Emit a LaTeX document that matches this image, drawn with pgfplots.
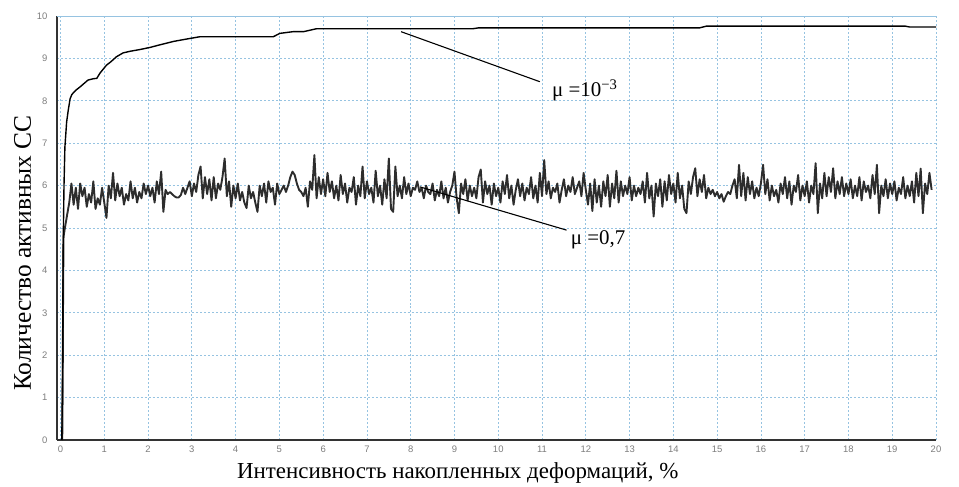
\documentclass[border=0pt]{standalone}
\usepackage{fontspec}
\setmainfont{Liberation Serif}
\newfontfamily\tickfont{Liberation Sans}
\usepackage{pgfplots}
\pgfplotsset{compat=1.18}
\definecolor{gridblue}{RGB}{150,195,225}
\definecolor{tickgray}{RGB}{125,125,125}
\definecolor{curvegray}{RGB}{45,45,45}

\pgfplotstableread{
x y
0.04 0
0.05 1.2
0.06 3.6
0.07 4.8
0.10 5.0
0.15 5.3
0.20 5.6
0.25 6.05
0.30 5.55
0.35 5.95
0.40 5.45
0.45 6.05
0.50 5.75
0.55 5.95
0.60 5.5
0.65 5.8
0.70 5.6
0.75 6.1
0.80 5.45
0.85 5.7
0.90 5.55
0.95 5.95
1.00 5.6
1.05 5.24
1.10 6.0
1.15 5.7
1.20 6.3
1.25 5.65
1.30 6.05
1.35 5.75
1.40 5.95
1.45 5.55
1.50 5.8
1.55 5.65
1.60 6.1
1.65 5.7
1.70 5.95
1.75 5.6
1.80 5.85
1.85 5.7
1.90 6.05
1.95 5.8
2.00 6.0
2.05 5.75
2.10 5.95
2.15 5.6
2.20 6.1
2.25 5.8
2.30 6.33
2.35 5.38
2.40 5.9
2.45 5.8
2.50 5.85
2.55 5.8
2.60 5.75
2.65 5.72
2.70 5.72
2.75 5.78
2.80 5.95
2.85 5.8
2.90 5.95
2.95 6.1
3.00 5.75
3.05 6.05
3.10 5.85
3.15 6.25
3.20 6.45
3.25 5.7
3.30 6.2
3.35 5.8
3.40 6.15
3.45 5.65
3.50 6.2
3.55 5.7
3.60 6.05
3.65 5.9
3.70 6.2
3.75 6.64
3.80 5.75
3.85 6.1
3.90 5.5
3.95 6.0
4.00 5.7
4.05 6.05
4.10 5.65
4.15 5.85
4.20 5.6
4.25 5.47
4.30 6.0
4.35 5.7
4.40 5.85
4.45 5.6
4.50 5.38
4.55 6.0
4.60 5.75
4.65 6.05
4.70 5.6
4.75 6.1
4.80 5.85
4.85 5.95
4.90 5.55
4.95 6.05
5.00 5.8
5.05 5.9
5.10 6.0
5.15 5.85
5.20 6.0
5.25 6.2
5.30 6.33
5.35 6.25
5.40 6.05
5.45 5.9
5.50 5.85
5.55 5.75
5.60 5.95
5.65 5.5
5.70 6.1
5.75 5.9
5.80 6.72
5.85 5.7
5.90 6.2
5.95 5.8
6.00 6.15
6.05 5.75
6.10 6.3
6.15 5.85
6.20 6.1
6.25 5.7
6.30 6.0
6.35 5.65
6.40 6.25
6.45 5.8
6.50 6.05
6.55 5.6
6.60 5.95
6.65 5.85
6.70 6.2
6.75 5.55
6.80 6.0
6.85 5.75
6.90 6.45
6.95 5.7
7.00 6.1
7.05 5.8
7.10 5.95
7.15 5.6
7.20 6.35
7.25 5.75
7.30 6.0
7.35 5.55
7.40 6.15
7.45 5.7
7.50 6.64
7.55 5.45
7.60 5.38
7.65 6.45
7.70 5.75
7.75 6.0
7.80 5.7
7.85 6.2
7.90 5.8
7.95 6.05
8.00 5.75
8.05 5.95
8.10 5.9
8.15 6.1
8.20 5.85
8.25 5.95
8.30 5.7
8.35 6.0
8.40 5.85
8.45 5.8
8.50 6.05
8.55 5.65
8.60 5.9
8.65 5.75
8.70 6.1
8.75 5.7
8.80 5.95
8.85 5.6
8.90 5.85
8.95 6.0
9.00 6.33
9.05 5.7
9.10 5.35
9.15 6.05
9.20 5.8
9.25 6.15
9.30 5.65
9.35 6.0
9.40 5.75
9.45 5.95
9.50 5.7
9.55 6.2
9.60 6.38
9.65 5.6
9.70 6.1
9.75 5.8
9.80 6.0
9.85 5.55
9.90 6.05
9.95 5.75
10.00 5.95
10.05 5.6
10.10 6.1
10.15 5.8
10.20 6.25
10.25 5.7
10.30 6.0
10.35 5.55
10.40 5.9
10.45 6.15
10.50 5.75
10.55 6.05
10.60 5.65
10.65 5.95
10.70 5.8
10.75 6.2
10.80 5.7
10.85 6.0
10.90 5.6
10.95 6.3
11.00 5.75
11.05 6.6
11.10 5.8
11.15 6.1
11.20 5.7
11.25 5.95
11.30 5.85
11.35 6.05
11.40 5.6
11.45 5.9
11.50 6.15
11.55 5.75
11.60 6.0
11.65 5.85
11.70 6.2
11.75 5.8
11.80 5.95
11.85 6.1
11.90 5.75
11.95 6.3
12.00 5.9
12.05 5.55
12.10 6.05
12.15 5.4
12.20 6.15
12.25 5.6
12.30 6.0
12.35 5.5
12.40 6.1
12.45 5.75
12.50 6.25
12.55 5.5
12.60 6.05
12.65 5.7
12.70 6.35
12.75 5.6
12.80 6.1
12.85 5.75
12.90 6.0
12.95 5.8
13.00 6.2
13.05 5.65
13.10 6.0
13.15 5.75
13.20 5.95
13.25 5.8
13.30 6.1
13.35 5.6
13.40 6.3
13.45 5.7
13.50 6.0
13.55 5.27
13.60 6.05
13.65 5.75
13.70 6.15
13.75 5.5
13.80 6.1
13.85 5.65
13.90 6.25
13.95 5.8
14.00 6.05
14.05 5.6
14.10 6.3
14.15 5.7
14.20 6.0
14.25 5.45
14.30 5.35
14.35 6.1
14.40 5.8
14.45 6.2
14.50 6.41
14.55 5.75
14.60 6.15
14.65 5.85
14.70 6.25
14.75 5.7
14.80 5.95
14.85 5.8
14.90 5.9
14.95 5.75
15.00 5.85
15.05 5.7
15.10 5.8
15.15 5.62
15.20 5.75
15.25 5.85
15.30 5.8
15.35 6.0
15.40 6.15
15.45 5.7
15.50 6.49
15.55 5.75
15.60 6.3
15.65 5.65
15.70 6.2
15.75 5.8
15.80 6.1
15.85 5.7
15.90 5.95
15.95 5.75
16.00 6.05
16.05 6.49
16.10 5.8
16.15 6.15
16.20 5.65
16.25 6.0
16.30 5.75
16.35 5.9
16.40 5.6
16.45 6.05
16.50 5.8
16.55 6.2
16.60 5.7
16.65 6.1
16.70 5.55
16.75 6.0
16.80 5.85
16.85 6.25
16.90 5.65
16.95 6.0
17.00 5.75
17.05 6.1
17.10 5.6
17.15 6.0
17.20 5.8
17.25 6.53
17.30 5.35
17.35 6.05
17.40 5.7
17.45 6.3
17.50 5.75
17.55 6.2
17.60 5.85
17.65 6.41
17.70 5.7
17.75 6.1
17.80 5.8
17.85 6.2
17.90 5.75
17.95 6.05
18.00 5.8
18.05 6.15
18.10 5.7
18.15 6.0
18.20 5.75
18.25 6.2
18.30 5.65
18.35 6.1
18.40 5.85
18.45 6.0
18.50 5.7
18.55 6.25
18.60 5.8
18.65 6.49
18.70 5.35
18.75 6.0
18.80 5.75
18.85 6.15
18.90 5.7
18.95 6.05
19.00 5.8
19.05 6.1
19.10 5.65
19.15 5.95
19.20 5.8
19.25 6.2
19.30 5.7
19.35 6.0
19.40 5.75
19.45 6.1
19.50 5.6
19.55 6.3
19.60 5.75
19.65 6.4
19.70 5.35
19.75 6.05
19.80 5.8
19.85 6.3
19.90 5.9
}\muhigh

\pgfplotstableread{
x y
0.03 0
0.05 2.0
0.06 4.5
0.08 6.0
0.10 6.9
0.14 7.5
0.18 7.8
0.22 8.05
0.26 8.15
0.35 8.25
0.45 8.33
0.55 8.42
0.63 8.49
0.75 8.52
0.83 8.53
0.90 8.65
1.05 8.84
1.15 8.92
1.28 9.04
1.43 9.13
1.60 9.17
1.82 9.21
2.05 9.26
2.27 9.32
2.58 9.40
2.90 9.46
3.18 9.51
4.86 9.51
5.01 9.59
5.31 9.63
5.55 9.63
5.85 9.70
9.42 9.70
9.55 9.72
14.60 9.72
14.75 9.76
19.30 9.76
19.40 9.74
20.00 9.74
}\mulow

\begin{document}
\begin{tikzpicture}
\path[use as bounding box] (-57bp,-47bp) rectangle (902bp,440bp);
\begin{axis}[
  at={(0,0)}, anchor=south west,
  scale only axis, width=879bp, height=424bp,
  xmin=-0.08, xmax=20, ymin=0, ymax=10,
  xtick={0,...,20}, ytick={0,...,10},
  grid=major,
  major grid style={gridblue, line width=0.8pt, dash pattern=on 2pt off 2pt},
  axis x line*=bottom, axis y line*=left,
  axis line style={line width=2.2pt, black!80, -},
  tick style={draw=none},
  /pgf/number format/assume math mode=true,
  tick label style={font=\tickfont\fontsize{9.5}{10}\selectfont, text=tickgray},
  yticklabel style={xshift=-6bp},
  xticklabel style={yshift=-2bp},
  xlabel={Интенсивность накопленных деформаций, \%},
  xlabel style={at={(axis description cs:0.456,0)}, anchor=base, yshift=-38bp, font=\fontsize{23}{23}\selectfont},
  ylabel={Количество активных СС},
  ylabel style={at={(axis description cs:0,0.441)}, anchor=base, yshift=26bp, font=\fontsize{25.5}{25.5}\selectfont},
  clip=false,
]
\draw[gridblue, line width=0.9pt] (rel axis cs:0,1) -- (rel axis cs:1,1);
\addplot[curvegray, line width=1.9pt, line join=round] table[x=x, y=y] {\muhigh};
\addplot[black, line width=1.4pt, line join=round] table[x=x, y=y] {\mulow};
\draw[black, line width=1.1pt] (axis cs:7.78,9.63) -- (axis cs:10.95,8.45);
\draw[black, line width=1.1pt] (axis cs:8.21,5.97) -- (axis cs:11.56,4.95);
\node[anchor=west, font=\fontsize{21}{21}\selectfont] at (axis cs:11.15,8.25) {μ =10\textsuperscript{−3}};
\node[anchor=west, font=\fontsize{21}{21}\selectfont] at (axis cs:11.58,4.72) {μ =0,7};
\end{axis}
\end{tikzpicture}
\end{document}
